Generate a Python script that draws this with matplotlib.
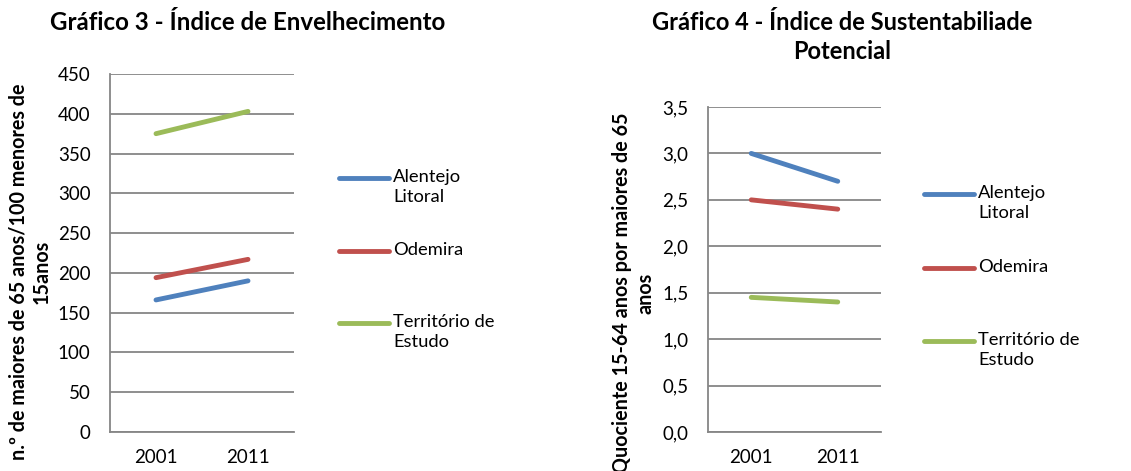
import matplotlib
matplotlib.use("Agg")
import matplotlib.pyplot as plt
from matplotlib.lines import Line2D
from matplotlib.ticker import FuncFormatter, MultipleLocator

plt.rcParams['font.family'] = ['Lato', 'DejaVu Sans']

years = ['2001', '2011']
series = ['Alentejo\nLitoral', 'Odemira', 'Território de\nEstudo']
colors = ['#4F81BD', '#C0504D', '#9BBB59']

envelhecimento = {
    'Alentejo\nLitoral': [166, 190],
    'Odemira': [194, 217],
    'Território de\nEstudo': [375, 403],
}
sustentabilidade = {
    'Alentejo\nLitoral': [3.0, 2.7],
    'Odemira': [2.5, 2.4],
    'Território de\nEstudo': [1.45, 1.4],
}

W, H = 1131, 471
fig = plt.figure(figsize=(W / 100, H / 100), dpi=100)


def px_axes(x0, y0, x1, y1):
    # pixel box (top-left origin) -> figure fraction
    return fig.add_axes([x0 / W, 1 - y1 / H, (x1 - x0) / W, (y1 - y0) / H])


def style(ax, ymax, step, fmt):
    ax.set_xlim(-0.5, 1.5)
    ax.set_ylim(0, ymax)
    ax.yaxis.set_major_locator(MultipleLocator(step))
    ax.yaxis.set_major_formatter(FuncFormatter(fmt))
    ax.set_xticks(range(len(years)))
    ax.set_xticklabels(years)
    ax.grid(axis='y', color='#868686', linewidth=1.3)
    ax.set_axisbelow(True)
    for s in ['top', 'right']:
        ax.spines[s].set_visible(False)
    for s in ['left', 'bottom']:
        ax.spines[s].set_color('#868686')
        ax.spines[s].set_linewidth(1.3)
    ax.tick_params(length=0, labelsize=13.5, colors='black')
    ax.tick_params(axis='y', pad=14)
    ax.tick_params(axis='x', pad=12)


def legend(x0, ys):
    for name, c, y in zip(series, colors, ys):
        fig.add_artist(Line2D([x0 / W, (x0 + 50) / W], [1 - y / H, 1 - y / H],
                              color=c, linewidth=3.5, solid_capstyle='round'))
        fig.text((x0 + 54) / W, 1 - (y - 9) / H, name, fontsize=13.2,
                 va='top', ha='left', linespacing=1.32)


# Gráfico 3
ax1 = px_axes(110, 74, 294, 432)
for name, c in zip(series, colors):
    ax1.plot(range(len(years)), envelhecimento[name], color=c, linewidth=3.5,
             solid_capstyle='round')
style(ax1, 450, 50, lambda v, p: f"{v:.0f}")
fig.text(248 / W, 1 - 22 / H, 'Gráfico 3 - Índice de Envelhecimento',
         fontsize=17.4, fontweight='bold', ha='center', va='center')
fig.text(30 / W, 1 - 272 / H, 'n.º de maiores de 65 anos/100 menores de\n15anos',
         fontsize=14.2, fontweight='bold', rotation=90, ha='center', va='center',
         linespacing=1.2)
legend(339, [178, 251, 323])

# Gráfico 4
ax2 = px_axes(708, 107, 881, 432)
for name, c in zip(series, colors):
    ax2.plot(range(len(years)), sustentabilidade[name], color=c, linewidth=3.5,
             solid_capstyle='round')
style(ax2, 3.5, 0.5, lambda v, p: f"{v:.1f}".replace('.', ','))
fig.text(842 / W, 1 - 37 / H, 'Gráfico 4 - Índice de Sustentabiliade\nPotencial',
         fontsize=17, fontweight='bold', ha='center', va='center', linespacing=1.35)
fig.text(634 / W, 1 - 293 / H, 'Quociente 15-64 anos por maiores de 65\nanos',
         fontsize=14.2, fontweight='bold', rotation=90, ha='center', va='center',
         linespacing=1.2)
legend(924, [194, 268, 341])

fig.savefig('out.png', dpi=100, facecolor='white')
